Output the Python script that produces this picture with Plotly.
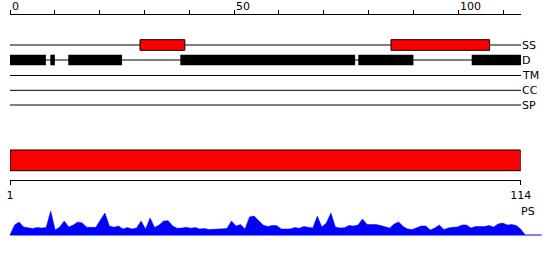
import plotly.graph_objects as go

# ---------------- data ----------------
seq_len = 114
track_names = ["SS", "D", "TM", "CC", "SP"]
ss_start = [29, 85]
ss_end = [39, 107]
d_start = [0, 9, 13, 38, 77.7, 103]
d_end = [8, 10, 25, 77, 90, 114]
top_tick_vals = list(range(0, 111, 10))
top_label_vals = [0, 50, 100]
ruler_vals = [1, 114]
ps_values = [0, 10, 13, 8, 7.3, 6.5, 7.5, 7, 7.5, 24, 5, 8, 14, 8, 10, 13, 12, 7.7, 7.7, 7.7,
             15, 22, 9, 7.7, 9, 6, 7.5, 6, 7, 14, 6, 17, 7.5, 10, 14, 14.3, 9, 6.7, 7, 7.7,
             6.7, 7.5, 6, 6.5, 5.5, 5.5, 6, 6.2, 6.5, 14, 9, 10.5, 6, 18, 19, 15, 10, 8.5, 9.5, 9.5,
             6, 6, 6, 7.5, 6.7, 8.5, 8, 7, 19, 8, 12, 22, 8, 7, 7.3, 9.5, 9, 10, 16, 10.5,
             10.5, 10.5, 9.5, 8.5, 7, 11, 13, 8.5, 6, 5.5, 7.5, 9, 9, 5, 7, 10, 5.5, 7, 7.7, 8,
             10, 10, 7, 8.5, 8.5, 8.5, 9.5, 8, 11, 12, 10, 10.5, 9.5, 6, 0]
ps_pos = list(range(1, len(ps_values) + 1))

# ---------------- layout constants (pixels) ----------------
W, H = 550, 260
FONT = "DejaVu Sans"
track_y = {"SS": 45, "D": 60, "TM": 75.5, "CC": 90.3, "SP": 105}
box_half = 5.3
top_axis_y = 14
ruler_y = 180.3
big_bar_y = (150, 170.7)
ps_base_y, ps_top_y = 235, 210
ps_max = 25
left_px, top_right_px, ruler_right_px = 10, 521, 520.7

def py(p):  # pixel-from-top -> paper
    return 1 - p / H

fig = go.Figure()

# track lines
for name in track_names:
    fig.add_trace(go.Scatter(x=[0, seq_len], y=[track_y[name]] * 2, mode="lines",
                             line=dict(color="black", width=1), xaxis="x", yaxis="y",
                             hoverinfo="skip", showlegend=False))

shapes = []
for s, e in zip(ss_start, ss_end):
    shapes.append(dict(type="rect", xref="x", yref="y", x0=s, x1=e,
                       y0=track_y["SS"] - box_half, y1=track_y["SS"] + box_half,
                       fillcolor="#ff0000", line=dict(color="black", width=1), layer="above"))
for s, e in zip(d_start, d_end):
    shapes.append(dict(type="rect", xref="x", yref="y", x0=s, x1=e,
                       y0=track_y["D"] - box_half, y1=track_y["D"] + box_half,
                       fillcolor="black", line=dict(color="black", width=0), layer="above"))

# whole-sequence bar
fig.add_trace(go.Scatter(x=[1, seq_len, seq_len, 1, 1],
                         y=[big_bar_y[0], big_bar_y[0], big_bar_y[1], big_bar_y[1], big_bar_y[0]],
                         mode="lines", fill="toself", fillcolor="#ff0000",
                         line=dict(color="black", width=1), xaxis="x2", yaxis="y",
                         hoverinfo="skip", showlegend=False))

# PS profile
fig.add_trace(go.Scatter(x=ps_pos, y=ps_values, mode="lines", fill="tozeroy",
                         fillcolor="#0000ff", line=dict(color="#0000ff", width=0.5),
                         xaxis="x3", yaxis="y3", hoverinfo="skip", showlegend=False))
shapes.append(dict(type="line", xref="paper", yref="paper", x0=left_px / W, x1=541.7 / W,
                   y0=py(ps_base_y), y1=py(ps_base_y), line=dict(color="#0000ff", width=1)))

# scales
s2 = (ruler_right_px - left_px) / (seq_len - 1)
x3_range = [1 - left_px / s2, 1 + (W - left_px) / s2]

annotations = []
for v in top_label_vals:
    annotations.append(dict(x=v, xref="x", y=py(6), yref="paper", text=str(v), showarrow=False,
                            xanchor="left", yanchor="middle", xshift=0,
                            font=dict(family=FONT, size=11, color="black")))
for name in track_names:
    annotations.append(dict(x=top_right_px / W, xref="paper", y=py(track_y[name]), yref="paper",
                            text=name, showarrow=False, xanchor="left", yanchor="middle", xshift=-1.5,
                            font=dict(family=FONT, size=11, color="black")))
annotations.append(dict(x=527.7 / W, xref="paper", y=py(211), yref="paper", text="PS",
                        showarrow=False, xanchor="center", yanchor="middle",
                        font=dict(family=FONT, size=11, color="black")))

fig.update_layout(
    template="none",
    width=W, height=H, margin=dict(l=0, r=0, t=0, b=0, pad=0), autosize=False,
    paper_bgcolor="white", plot_bgcolor="rgba(0,0,0,0)",
    showlegend=False,
    xaxis=dict(domain=[left_px / W, top_right_px / W], range=[0, seq_len], anchor="free",
               position=py(top_axis_y), side="top", showline=True, linecolor="black", linewidth=1,
               ticks="outside", ticklen=4, tickcolor="black", tickwidth=1, tickvals=top_tick_vals,
               showticklabels=False, showgrid=False, zeroline=False, fixedrange=True, automargin=False),
    yaxis=dict(domain=[0, 1], range=[H, 0], visible=False, anchor="x", fixedrange=True, automargin=False),
    xaxis2=dict(domain=[left_px / W, ruler_right_px / W], range=[1, seq_len], anchor="free",
                position=py(ruler_y), side="bottom", showline=True, linecolor="black", linewidth=1,
                ticks="outside", ticklen=4, tickcolor="black", tickwidth=1, tickvals=ruler_vals,
                ticktext=[str(v) for v in ruler_vals], tickfont=dict(family=FONT, size=11, color="black"),
                showgrid=False, zeroline=False, fixedrange=True, automargin=False),
    xaxis3=dict(domain=[0, 1], range=x3_range, anchor="y3", visible=False, fixedrange=True),
    yaxis3=dict(domain=[py(ps_base_y), py(ps_top_y)], range=[0, ps_max], anchor="x3",
                visible=False, fixedrange=True),
    shapes=shapes, annotations=annotations,
)

fig.write_html("out.html")
